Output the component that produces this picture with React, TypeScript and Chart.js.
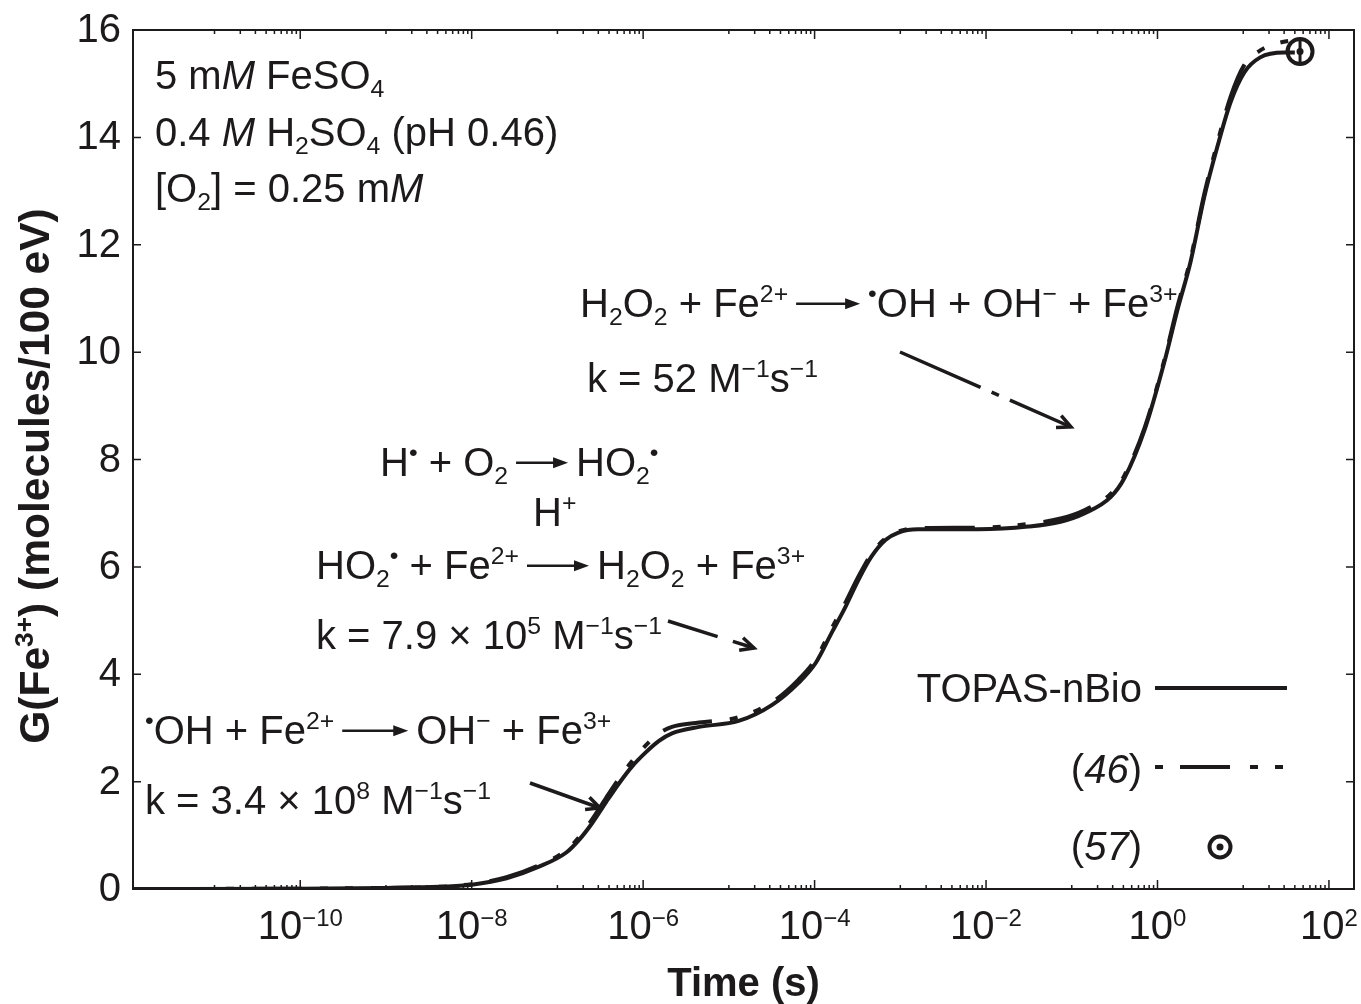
import React, { useEffect, useRef } from "react";
import { Chart, registerables } from "chart.js";

Chart.register(...registerables);

// ---------- data ----------
const topasTime = [
  1.12e-12, 1e-10, 1e-9, 4.2e-9, 1.0e-8, 2.55e-8, 6.2e-8, 1.27e-7, 1.8e-7, 2.55e-7, 3.7e-7,
  5.3e-7, 7.4e-7, 1.08e-6, 1.53e-6, 2.17e-6, 4.5e-6, 1.3e-5, 3.2e-5, 6.5e-5, 1.03e-4,
  1.58e-4, 2.3e-4, 3.25e-4, 4.6e-4, 6.7e-4, 9.5e-4, 1.6e-3, 8.1e-3, 3.1e-2, 7.4e-2,
  0.142, 0.284, 0.41, 0.71, 1.2, 1.71, 2.42, 3.52, 5.0, 7.1, 10.3, 15.8, 30, 40,
];
const topasG = [
  0, 0.005, 0.02, 0.04, 0.08, 0.2, 0.42, 0.68, 0.92, 1.23, 1.62,
  1.98, 2.28, 2.55, 2.76, 2.9, 3.02, 3.13, 3.43, 3.84, 4.21,
  4.77, 5.26, 5.76, 6.19, 6.5, 6.64, 6.7, 6.7, 6.75, 6.84,
  7.0, 7.3, 7.65, 8.56, 9.81, 10.79, 11.67, 12.9, 13.83, 14.65, 15.21, 15.49, 15.58, 15.58,
];

const ref46Time = [
  1.12e-12, 1e-9, 1.0e-8, 2.55e-8, 6.2e-8, 1.27e-7, 1.8e-7, 2.55e-7, 3.7e-7, 5.3e-7,
  7.4e-7, 1.08e-6, 1.53e-6, 2.17e-6, 4.5e-6, 1.3e-5, 3.2e-5, 6.5e-5, 1.03e-4, 1.58e-4,
  2.3e-4, 3.25e-4, 4.6e-4, 6.7e-4, 9.5e-4, 1.6e-3, 8.1e-3, 3.1e-2, 7.4e-2, 0.142,
  0.284, 0.41, 0.71, 1.2, 1.71, 2.42, 3.52, 5.0, 7.1, 10.3, 15.8, 25, 40,
];
const ref46G = [
  0, 0.02, 0.09, 0.22, 0.45, 0.72, 0.97, 1.3, 1.7, 2.07,
  2.38, 2.68, 2.9, 3.02, 3.1, 3.2, 3.48, 3.9, 4.28, 4.85,
  5.34, 5.82, 6.24, 6.53, 6.66, 6.72, 6.73, 6.8, 6.9, 7.06,
  7.36, 7.7, 8.6, 9.85, 10.85, 11.72, 12.95, 13.9, 14.75, 15.35, 15.62, 15.75, 15.82,
];

const ref57Time = [46];
const ref57G = [15.6];
const ref57Err = [0.2];

const yTickValues = [0, 2, 4, 6, 8, 10, 12, 14, 16];
const xLabelExponents = [-10, -8, -6, -4, -2, 0, 2];

const seriesNames = ["TOPAS-nBio", "46", "57"];

// ---------- styling ----------
const INK = "#1c1a1b";
const FONT = '"Liberation Sans", Arial, Helvetica, sans-serif';
const FS = 40;

type Seg = { t?: string; sup?: boolean; sub?: boolean; it?: boolean; b?: boolean; arrow?: number };

function segFont(s: Seg, size: number) {
  const sz = s.sup || s.sub ? size * 0.62 : size;
  return `${s.it ? "italic " : ""}${s.b ? "bold " : ""}${sz}px ${FONT}`;
}

function segWidth(ctx: CanvasRenderingContext2D, s: Seg, size: number) {
  if (s.arrow) return s.arrow;
  ctx.font = segFont(s, size);
  return ctx.measureText(s.t || "").width;
}

function drawRich(
  ctx: CanvasRenderingContext2D,
  x: number,
  y: number,
  segs: Seg[],
  size: number,
  align: "left" | "right" | "center" = "left"
) {
  const total = segs.reduce((a, s) => a + segWidth(ctx, s, size), 0);
  let cx = align === "left" ? x : align === "right" ? x - total : x - total / 2;
  ctx.textAlign = "left";
  ctx.textBaseline = "alphabetic";
  for (const s of segs) {
    const w = segWidth(ctx, s, size);
    if (s.arrow) {
      const ay = y - size * 0.33;
      const x0 = cx + 8;
      const x1 = cx + w - 8;
      ctx.save();
      ctx.strokeStyle = INK;
      ctx.fillStyle = INK;
      ctx.lineWidth = 2.5;
      ctx.beginPath();
      ctx.moveTo(x0, ay);
      ctx.lineTo(x1 - 10, ay);
      ctx.stroke();
      ctx.beginPath();
      ctx.moveTo(x1, ay);
      ctx.lineTo(x1 - 15, ay - 5.5);
      ctx.lineTo(x1 - 15, ay + 5.5);
      ctx.closePath();
      ctx.fill();
      ctx.restore();
    } else {
      ctx.font = segFont(s, size);
      const dy = s.sup ? -size * 0.38 : s.sub ? size * 0.2 : 0;
      ctx.fillText(s.t || "", cx, y + dy);
    }
    cx += w;
  }
}

function arrowLine(
  ctx: CanvasRenderingContext2D,
  x0: number,
  y0: number,
  x1: number,
  y1: number,
  dash: number[]
) {
  ctx.save();
  ctx.strokeStyle = INK;
  ctx.lineWidth = 3.5;
  ctx.setLineDash(dash);
  ctx.beginPath();
  ctx.moveTo(x0, y0);
  ctx.lineTo(x1, y1);
  ctx.stroke();
  ctx.setLineDash([]);
  const ang = Math.atan2(y1 - y0, x1 - x0);
  const L = 15;
  const a = 0.45;
  ctx.lineWidth = 3.5;
  ctx.beginPath();
  ctx.moveTo(x1 - L * Math.cos(ang - a), y1 - L * Math.sin(ang - a));
  ctx.lineTo(x1, y1);
  ctx.lineTo(x1 - L * Math.cos(ang + a), y1 - L * Math.sin(ang + a));
  ctx.stroke();
  ctx.restore();
}

// annotation texts (layout in pixels, separate from data)
const annotations: { x: number; y: number; segs: Seg[] }[] = [
  { x: 155, y: 89, segs: [{ t: "5 m" }, { t: "M", it: true }, { t: " FeSO" }, { t: "4", sub: true }] },
  {
    x: 155,
    y: 146,
    segs: [
      { t: "0.4 " },
      { t: "M", it: true },
      { t: " H" },
      { t: "2", sub: true },
      { t: "SO" },
      { t: "4", sub: true },
      { t: " (pH 0.46)" },
    ],
  },
  { x: 155, y: 202, segs: [{ t: "[O" }, { t: "2", sub: true }, { t: "] = 0.25 m" }, { t: "M", it: true }] },
  {
    x: 580,
    y: 317,
    segs: [
      { t: "H" },
      { t: "2", sub: true },
      { t: "O" },
      { t: "2", sub: true },
      { t: " + Fe" },
      { t: "2+", sup: true },
      { arrow: 80 },
      { t: "•", sup: true },
      { t: "OH + OH" },
      { t: "−", sup: true },
      { t: " + Fe" },
      { t: "3+", sup: true },
    ],
  },
  {
    x: 587,
    y: 392,
    segs: [{ t: "k = 52 M" }, { t: "−1", sup: true }, { t: "s" }, { t: "−1", sup: true }],
  },
  {
    x: 380,
    y: 476,
    segs: [
      { t: "H" },
      { t: "•", sup: true },
      { t: " + O" },
      { t: "2", sub: true },
      { arrow: 68 },
      { t: "HO" },
      { t: "2", sub: true },
      { t: "•", sup: true },
    ],
  },
  { x: 533, y: 526, segs: [{ t: "H" }, { t: "+", sup: true }] },
  {
    x: 316,
    y: 579,
    segs: [
      { t: "HO" },
      { t: "2", sub: true },
      { t: "•", sup: true },
      { t: " + Fe" },
      { t: "2+", sup: true },
      { arrow: 78 },
      { t: "H" },
      { t: "2", sub: true },
      { t: "O" },
      { t: "2", sub: true },
      { t: " + Fe" },
      { t: "3+", sup: true },
    ],
  },
  {
    x: 316,
    y: 649,
    segs: [
      { t: "k = 7.9 × 10" },
      { t: "5", sup: true },
      { t: " M" },
      { t: "−1", sup: true },
      { t: "s" },
      { t: "−1", sup: true },
    ],
  },
  {
    x: 145,
    y: 744,
    segs: [
      { t: "•", sup: true },
      { t: "OH + Fe" },
      { t: "2+", sup: true },
      { arrow: 82 },
      { t: "OH" },
      { t: "−", sup: true },
      { t: " + Fe" },
      { t: "3+", sup: true },
    ],
  },
  {
    x: 145,
    y: 814,
    segs: [
      { t: "k = 3.4 × 10" },
      { t: "8", sup: true },
      { t: " M" },
      { t: "−1", sup: true },
      { t: "s" },
      { t: "−1", sup: true },
    ],
  },
];

const customPlugin = {
  id: "fricke",
  afterDraw(chart: any) {
    const { ctx, chartArea: ca, scales } = chart;
    const xs = scales.x;
    const ys = scales.y;
    ctx.save();
    ctx.fillStyle = INK;
    ctx.strokeStyle = INK;

    // frame
    ctx.lineWidth = 2;
    ctx.strokeRect(ca.left, ca.top, ca.right - ca.left, ca.bottom - ca.top);

    // y ticks and labels
    ctx.lineWidth = 1.5;
    for (const v of yTickValues) {
      const py = ys.getPixelForValue(v);
      if (v !== 0 && v !== 16) {
        ctx.beginPath();
        ctx.moveTo(ca.left, py);
        ctx.lineTo(ca.left + 8, py);
        ctx.moveTo(ca.right, py);
        ctx.lineTo(ca.right - 8, py);
        ctx.stroke();
      }
      ctx.font = `${FS}px ${FONT}`;
      ctx.textAlign = "right";
      ctx.textBaseline = "middle";
      ctx.fillText(String(v), ca.left - 12, py + 1);
    }

    // x ticks (major at labelled decades, minor in the decade before)
    for (const e of xLabelExponents) {
      const major = Math.pow(10, e);
      const px = xs.getPixelForValue(major);
      ctx.beginPath();
      ctx.moveTo(px, ca.bottom);
      ctx.lineTo(px, ca.bottom - 9);
      ctx.moveTo(px, ca.top);
      ctx.lineTo(px, ca.top + 9);
      ctx.stroke();
      for (let k = 1; k <= 9; k++) {
        const mv = k * Math.pow(10, e - 1);
        const mp = xs.getPixelForValue(mv);
        if (mp < ca.left || mp > ca.right) continue;
        ctx.beginPath();
        ctx.moveTo(mp, ca.bottom);
        ctx.lineTo(mp, ca.bottom - 4);
        ctx.moveTo(mp, ca.top);
        ctx.lineTo(mp, ca.top + 4);
        ctx.stroke();
      }
      // label 10^e
      const base = "10";
      const sup = e === 0 ? "0" : e < 0 ? "−" + String(-e) : String(e);
      ctx.font = `${FS}px ${FONT}`;
      const wb = ctx.measureText(base).width;
      ctx.font = `${24}px ${FONT}`;
      const ws = ctx.measureText(sup).width;
      const left = px - (wb + ws) / 2;
      ctx.textAlign = "left";
      ctx.textBaseline = "alphabetic";
      ctx.font = `${FS}px ${FONT}`;
      ctx.fillText(base, left, 939);
      ctx.font = `${24}px ${FONT}`;
      ctx.fillText(sup, left + wb, 926);
    }

    // axis titles
    ctx.font = `bold ${FS}px ${FONT}`;
    ctx.textAlign = "center";
    ctx.textBaseline = "alphabetic";
    ctx.fillText("Time (s)", (ca.left + ca.right) / 2, 996);

    ctx.save();
    ctx.translate(49, 476);
    ctx.rotate(-Math.PI / 2);
    drawRich(
      ctx,
      0,
      0,
      [{ t: "G(Fe", b: true }, { t: "3+", sup: true, b: true }, { t: ") (molecules/100 eV)", b: true }],
      42.5,
      "center"
    );
    ctx.restore();

    // reference (57) point: centre dot and error bar
    for (let i = 0; i < ref57Time.length; i++) {
      const px = xs.getPixelForValue(ref57Time[i]);
      const py = ys.getPixelForValue(ref57G[i]);
      const pt = ys.getPixelForValue(ref57G[i] + ref57Err[i]);
      const pb = ys.getPixelForValue(ref57G[i] - ref57Err[i]);
      ctx.lineWidth = 3;
      ctx.beginPath();
      ctx.moveTo(px, pt);
      ctx.lineTo(px, pb);
      ctx.stroke();
      ctx.beginPath();
      ctx.arc(px, py, 3.5, 0, Math.PI * 2);
      ctx.fill();
    }

    // annotation texts
    for (const a of annotations) drawRich(ctx, a.x, a.y, a.segs, FS);

    // annotation arrows
    arrowLine(ctx, 900, 352, 1071, 427, [88, 12, 8, 12]);
    arrowLine(ctx, 668, 621, 754, 648, [52, 16]);
    arrowLine(ctx, 530, 783, 600, 808, []);

    // legend
    ctx.font = `${FS}px ${FONT}`;
    ctx.textAlign = "right";
    ctx.textBaseline = "alphabetic";
    ctx.fillText(seriesNames[0], 1142, 702);
    ctx.lineWidth = 4;
    ctx.beginPath();
    ctx.moveTo(1155, 688);
    ctx.lineTo(1287, 688);
    ctx.stroke();

    drawRich(ctx, 1142, 783, [{ t: "(" }, { t: seriesNames[1], it: true }, { t: ")" }], FS, "right");
    ctx.save();
    ctx.setLineDash([8, 17, 50, 20, 8, 17]);
    ctx.lineWidth = 4;
    ctx.beginPath();
    ctx.moveTo(1155, 767);
    ctx.lineTo(1285, 767);
    ctx.stroke();
    ctx.restore();

    drawRich(ctx, 1142, 860, [{ t: "(" }, { t: seriesNames[2], it: true }, { t: ")" }], FS, "right");
    ctx.lineWidth = 4;
    ctx.beginPath();
    ctx.arc(1220, 847, 10.5, 0, Math.PI * 2);
    ctx.stroke();
    ctx.beginPath();
    ctx.arc(1220, 847, 3.5, 0, Math.PI * 2);
    ctx.fill();

    ctx.restore();
  },
};

export default function App() {
  const ref = useRef<HTMLCanvasElement | null>(null);

  useEffect(() => {
    if (!ref.current) return;
    const chart = new Chart(ref.current, {
      type: "line",
      data: {
        datasets: [
          {
            label: seriesNames[0],
            data: topasTime.map((t, i) => ({ x: t, y: topasG[i] })),
            borderColor: INK,
            borderWidth: 4,
            pointRadius: 0,
            cubicInterpolationMode: "monotone",
            order: 0,
          },
          {
            label: seriesNames[1],
            data: ref46Time.map((t, i) => ({ x: t, y: ref46G[i] })),
            borderColor: INK,
            borderWidth: 4,
            borderDash: [50, 18, 8, 17, 8, 18],
            pointRadius: 0,
            cubicInterpolationMode: "monotone",
            order: 1,
          },
          {
            label: seriesNames[2],
            data: ref57Time.map((t, i) => ({ x: t, y: ref57G[i] })),
            showLine: false,
            borderColor: INK,
            backgroundColor: "rgba(0,0,0,0)",
            pointStyle: "circle",
            pointRadius: 12.5,
            pointBorderWidth: 4,
            order: -1,
          },
        ],
      },
      options: {
        responsive: false,
        animation: false,
        devicePixelRatio: 1,
        layout: { autoPadding: false, padding: { left: 133, right: 7, top: 30, bottom: 115 } },
        plugins: { legend: { display: false }, tooltip: { enabled: false } },
        scales: {
          x: { type: "logarithmic", min: 1.12e-12, max: 196, display: false },
          y: { type: "linear", min: 0, max: 16, display: false },
        },
      },
      plugins: [customPlugin],
    });
    return () => chart.destroy();
  }, []);

  return (
    <div style={{ position: "absolute", left: 0, top: 0, width: 1361, height: 1004, background: "#fff" }}>
      <canvas ref={ref} width={1361} height={1004} />
    </div>
  );
}
